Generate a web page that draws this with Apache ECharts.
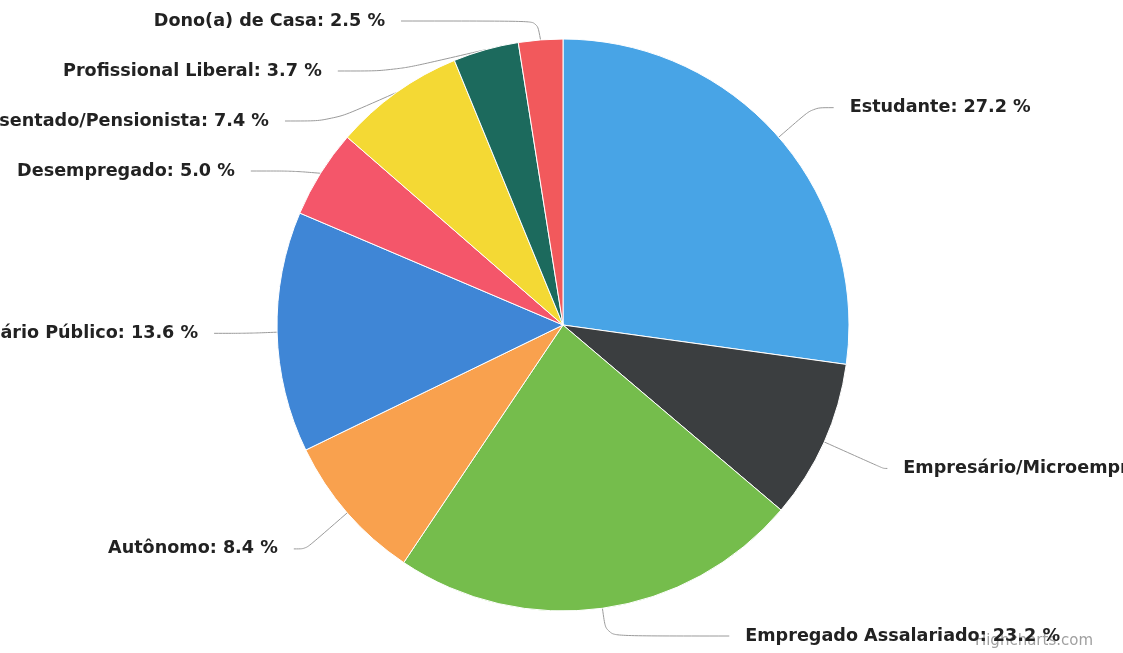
<!DOCTYPE html>
<html>
<head>
<meta charset="utf-8">
<script src="https://cdn.jsdelivr.net/npm/echarts@6/dist/echarts.min.js"></script>
<style>
  html, body { margin: 0; padding: 0; width: 1123px; height: 653px; overflow: hidden; background: #fff; }
  /* wider than the window so long labels get clipped like in the scan */
  #chart { position: absolute; left: -200px; top: -4px; width: 1523px; height: 653px; }
</style>
</head>
<body>
<div id="chart"></div>
<script>
// categories + percentages
const categories = [
  'Estudante',
  'Empresário/Microempresário',
  'Empregado Assalariado',
  'Autônomo',
  'Funcionário Público',
  'Desempregado',
  'Aposentado/Pensionista',
  'Profissional Liberal',
  'Dono(a) de Casa'
]
const shares = [27.2, 9.0, 23.2, 8.4, 13.6, 5.0, 7.4, 3.7, 2.5]

// styling, one entry per slice
const colors = ['#48a4e6', '#3b3e40', '#75bd4c', '#f9a14e', '#3f86d6', '#f4566a', '#f4d934', '#1c6a5d', '#f2595c']
const connLen = [45, 65, 28, 55, 45, 45, 45, 45, 45]
const connLen2 = [21, 4, 123, 12, 34, 42, 47, 56, 136]

const chart = echarts.init(document.getElementById('chart'))

// left side labels get a taller box so they spread out like highcharts does
const leftSide = i => i >= 3

const opt = {
  animation: false,
  color: colors,
  graphic: [{
    type: 'text',
    right: 230,
    top: 638,
    z: -1,
    style: { text: 'Highcharts.com', fill: '#a0a0a0', font: '15px "DejaVu Sans"' }
  }],
  series: [{
    type: 'pie',
    center: [763, 329],
    radius: 286,
    startAngle: 90,
    clockwise: true,
    avoidLabelOverlap: true,
    itemStyle: { borderColor: '#fff', borderWidth: 1 },
    label: {
      show: true,
      color: '#222',
      fontFamily: 'DejaVu Sans',
      fontWeight: 'bold',
      fontSize: 17.6,
      distanceToLabelLine: 16,
      formatter: p => p.name + ': ' + p.value.toFixed(1) + ' %'
    },
    labelLine: {
      show: true,
      smooth: 0.3,
      lineStyle: { color: '#9a9a9a', width: 1 }
    },
    data: categories.map((name, i) => ({
      name,
      value: shares[i],
      label: leftSide(i) ? { lineHeight: 48, height: 48 } : {},
      labelLine: { length: connLen[i], length2: connLen2[i] }
    }))
  }]
}

chart.setOption(opt)
</script>
</body>
</html>
